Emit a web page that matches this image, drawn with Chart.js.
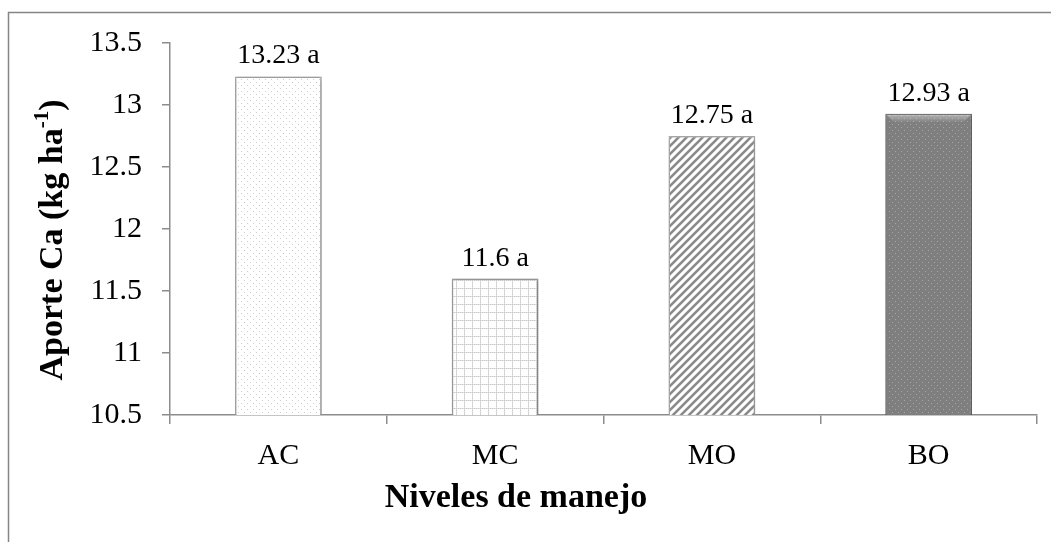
<!DOCTYPE html>
<html>
<head>
<meta charset="utf-8">
<script src="https://cdn.jsdelivr.net/npm/chart.js@4.4.1/dist/chart.umd.min.js"></script>
<style>
html,body{margin:0;padding:0;background:#fff;}
#wrap{position:relative;width:1051px;height:542px;}
</style>
</head>
<body>
<div id="wrap"><canvas id="c" width="1051" height="542"></canvas></div>
<script>
const categories = ["AC", "MC", "MO", "BO"];
const values = [13.23, 11.6, 12.75, 12.93];
const labels = ["13.23 a", "11.6 a", "12.75 a", "12.93 a"];
const yMin = 10.5, yMax = 13.5, yStep = 0.5;
const xTitle = "Niveles de manejo";
const yTitleMain = "Aporte Ca (kg ha";
const yTitleSup = "-1";
const yTitleEnd = ")";

const SERIF = '"Liberation Serif", "Times New Roman", serif';

function tile(w, h, draw) {
  const c = document.createElement('canvas');
  c.width = w; c.height = h;
  const g = c.getContext('2d');
  draw(g);
  return document.getElementById('c').getContext('2d').createPattern(c, 'repeat');
}
const pAC = tile(6, 6, g => {
  g.fillStyle = '#fff'; g.fillRect(0,0,6,6);
  g.fillStyle = '#d0d0d0'; g.fillRect(1,1,1,1); g.fillRect(4,4,1,1);
});
const pMC = tile(8, 8, g => {
  g.fillStyle = '#fff'; g.fillRect(0,0,8,8);
  g.fillStyle = '#c8c8c8';
  for (let i=0;i<8;i+=2){ g.fillRect(i,0,1,1); g.fillRect(0,i,1,1); }
  g.fillStyle = '#e0e0e0';
  for (let i=1;i<8;i+=2){ g.fillRect(i,0,1,1); g.fillRect(0,i,1,1); }
});
const pMO = tile(8, 8, g => {
  g.fillStyle = '#fff'; g.fillRect(0,0,8,8);
  g.strokeStyle = '#8a8a8a'; g.lineWidth = 2.6;
  g.beginPath();
  g.moveTo(-2,10); g.lineTo(10,-2);
  g.moveTo(-2,2); g.lineTo(2,-2);
  g.moveTo(6,10); g.lineTo(10,6);
  g.stroke();
});
const pBO = tile(6, 6, g => {
  g.fillStyle = '#7f7f7f'; g.fillRect(0,0,6,6);
  g.fillStyle = '#a6a6a6'; g.fillRect(1,1,1,1); g.fillRect(4,4,1,1);
});

const frame = {
  id: 'frame',
  beforeDraw(chart) {
    const ctx = chart.ctx;
    ctx.save();
    ctx.strokeStyle = '#858585'; ctx.lineWidth = 1.5;
    ctx.strokeRect(8.5, 12.5, 1100, 600);
    ctx.restore();
  }
};
const shadow = {
  id: 'shadow',
  beforeDatasetsDraw(chart) {
    const ctx = chart.ctx;
    ctx.save();
    ctx.shadowColor = 'rgba(0,0,0,0.3)';
    ctx.shadowBlur = 4;
    ctx.shadowOffsetX = 1;
    ctx.shadowOffsetY = 1;
  },
  afterDatasetsDraw(chart) {
    const ctx = chart.ctx;
    ctx.restore();
    // bevel highlight on dark bar
    const meta = chart.getDatasetMeta(0);
    const b = meta.data[3];
    if (b) {
      const l = b.x - b.width / 2, r = b.x + b.width / 2, t = b.y, d = 9;
      ctx.save();
      const gr = ctx.createLinearGradient(0, t, 0, t + d);
      gr.addColorStop(0, 'rgba(255,255,255,0.45)');
      gr.addColorStop(1, 'rgba(255,255,255,0.0)');
      ctx.fillStyle = gr;
      ctx.beginPath();
      ctx.moveTo(l + 1, t + 1); ctx.lineTo(r - 1, t + 1); ctx.lineTo(r - d, t + d); ctx.lineTo(l + d, t + d);
      ctx.closePath(); ctx.fill();
      ctx.restore();
    }
  }
};
const barLabels = {
  id: 'barLabels',
  afterDatasetsDraw(chart) {
    const ctx = chart.ctx;
    const meta = chart.getDatasetMeta(0);
    ctx.save();
    ctx.font = '28px ' + SERIF;
    ctx.fillStyle = '#000';
    ctx.textAlign = 'center';
    ctx.textBaseline = 'alphabetic';
    meta.data.forEach((bar, i) => {
      ctx.fillText(labels[i], bar.x, bar.y - 13);
    });
    ctx.restore();
  }
};
const titles = {
  id: 'titles',
  afterDraw(chart) {
    const ctx = chart.ctx;
    ctx.save();
    ctx.fillStyle = '#000';
    ctx.font = 'bold 34px ' + SERIF;
    ctx.textAlign = 'center';
    ctx.textBaseline = 'alphabetic';
    ctx.fillText(xTitle, 516, 507);
    ctx.translate(62, 240);
    ctx.rotate(-Math.PI / 2);
    const f = 'bold 34px ' + SERIF;
    const fs = 'bold 21px ' + SERIF;
    ctx.font = f; const w1 = ctx.measureText(yTitleMain).width; const w3 = ctx.measureText(yTitleEnd).width;
    ctx.font = fs; const w2 = ctx.measureText(yTitleSup).width;
    const total = w1 + w2 + w3;
    let x = -total / 2;
    ctx.textAlign = 'left';
    ctx.font = f; ctx.fillText(yTitleMain, x, 0); x += w1;
    ctx.font = fs; ctx.fillText(yTitleSup, x, -14); x += w2;
    ctx.font = f; ctx.fillText(yTitleEnd, x, 0);
    ctx.restore();
  }
};

new Chart(document.getElementById('c'), {
  type: 'bar',
  data: {
    labels: categories,
    datasets: [{
      data: values,
      backgroundColor: [pAC, pMC, pMO, pBO],
      borderColor: ['#a8a8a8', '#a0a0a0', '#b0b0b0', '#6a6a6a'],
      borderWidth: 1.5,
      barPercentage: 0.4,
      categoryPercentage: 1.0
    }]
  },
  options: {
    responsive: false,
    animation: false,
    layout: { padding: { top: 43, right: 14, left: 0, bottom: 0 } },
    plugins: { legend: { display: false }, tooltip: { enabled: false } },
    scales: {
      y: {
        min: yMin, max: yMax,
        ticks: { stepSize: yStep, color: '#000', padding: 20,
          callback: v => String(+Number(v).toFixed(1)),
          font: { family: SERIF, size: 30 } },
        grid: { drawOnChartArea: false, tickLength: 8, color: '#8c8c8c', lineWidth: 1.5 },
        border: { color: '#8c8c8c', width: 1.5 },
        afterFit(s) { s.width = 170; }
      },
      x: {
        ticks: { color: '#000', padding: 14,
          font: { family: SERIF, size: 30 } },
        grid: { drawOnChartArea: false, tickLength: 9, color: '#8c8c8c', lineWidth: 1.5, offset: true },
        border: { color: '#8c8c8c', width: 1.5 },
        afterFit(s) { s.height = 127; }
      }
    }
  },
  plugins: [frame, shadow, barLabels, titles]
});
</script>
</body>
</html>
